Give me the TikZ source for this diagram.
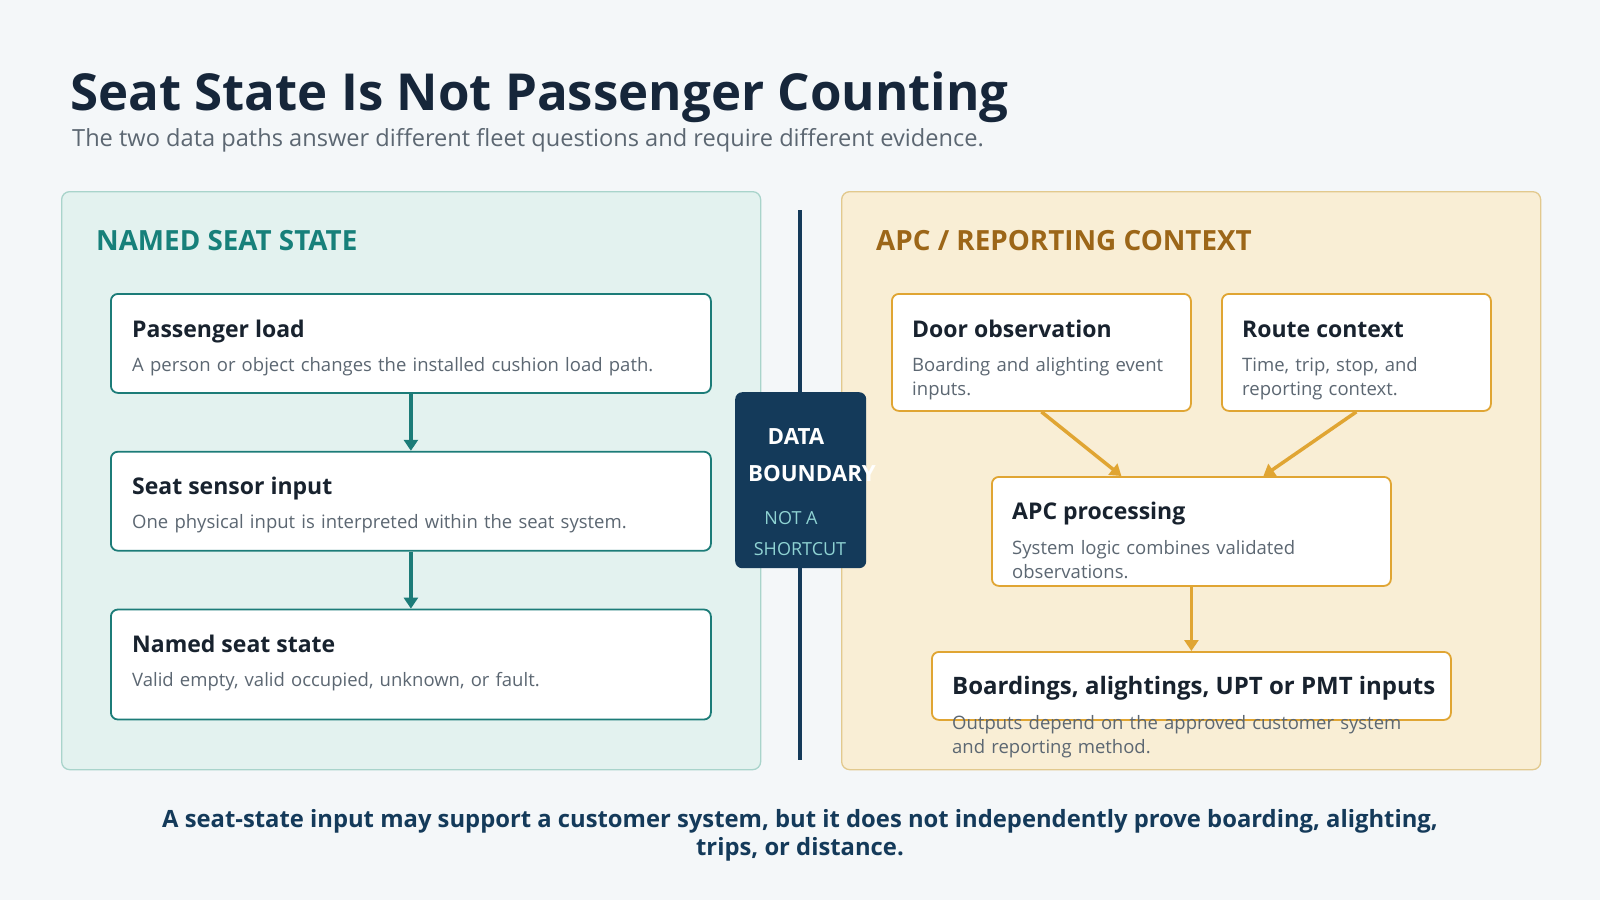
\documentclass[tikz,border=0pt]{standalone}
\usepackage{fontspec}
\setmainfont{Open Sans}
\usepackage{xcolor}
\usetikzlibrary{positioning,arrows.meta,calc}

\definecolor{bgcol}{HTML}{F4F7F9}
\definecolor{leftfill}{HTML}{E3F2EF}
\definecolor{leftline}{HTML}{A9D4CB}
\definecolor{rightfill}{HTML}{F9EED5}
\definecolor{rightline}{HTML}{E2C98E}
\definecolor{tealline}{HTML}{1C7C78}
\definecolor{goldline}{HTML}{E0A533}
\definecolor{navy}{HTML}{143A5A}
\definecolor{inktitle}{HTML}{16263A}
\definecolor{ink}{HTML}{18222E}
\definecolor{muted}{HTML}{5C6772}
\definecolor{tealtxt}{HTML}{17807A}
\definecolor{browntxt}{HTML}{9C6618}
\definecolor{shorttxt}{HTML}{8FD3D3}

\begin{document}
\begin{tikzpicture}[x=1pt, y=-1pt,
  node distance=57pt,
  panel/.style={draw, rounded corners=8pt, line width=1.3pt, anchor=north west, inner sep=0pt},
  tealcard/.style={draw=tealline, fill=white, rounded corners=7pt, line width=1.8pt, anchor=north west, inner sep=0pt, minimum width=600pt},
  goldcard/.style={draw=goldline, fill=white, rounded corners=7pt, line width=1.8pt, anchor=north west, inner sep=0pt},
  head/.style={anchor=base west, inner sep=0pt, text=ink, font=\fontsize{23}{28}\selectfont\bfseries},
  desc/.style={anchor=base west, inner sep=0pt, text=muted, align=left, text width=540pt, font=\fontsize{18.5}{24}\selectfont},
  section/.style={anchor=base west, inner sep=0pt, font=\fontsize{27.8}{32}\selectfont\bfseries},
  tealarrow/.style={-{Triangle[length=11pt,width=14pt]}, draw=tealline, line width=3.5pt},
  goldarrow/.style={-{Triangle[length=11pt,width=14pt]}, draw=goldline, line width=3.5pt},
  dbword/.style={anchor=base, inner sep=0pt, text=white, font=\fontsize{22.3}{26}\selectfont\bfseries},
  dbsub/.style={anchor=base, inner sep=0pt, text=shorttxt, font=\fontsize{18}{22}\selectfont}
]
\fill[bgcol] (0,0) rectangle (1600,900);
\useasboundingbox (0,0) rectangle (1600,900);

% heading
\node[anchor=base west, inner sep=0pt, text=inktitle, font=\fontsize{51}{60}\selectfont\bfseries] (title) at (70,110) {Seat State Is Not Passenger Counting};
\node[anchor=base west, inner sep=0pt, text=muted, font=\fontsize{23.6}{28}\selectfont] (subtitle) at (72,146) {The two data paths answer different fleet questions and require different evidence.};

% the two panels
\node[panel, draw=leftline, fill=leftfill, minimum width=699pt, minimum height=578pt] (leftpanel) at (61,191) {};
\node[panel, draw=rightline, fill=rightfill, minimum width=699pt, minimum height=578pt] (rightpanel) at (841,191) {};
\node[section, text=tealtxt] (lefthead) at (96,250) {NAMED SEAT STATE};
\node[section, text=browntxt] (righthead) at (876,250) {APC / REPORTING CONTEXT};

% left column
\node[tealcard, minimum height=99pt] (load) at (110,293) {};
\node[tealcard, minimum height=99pt, below=of load] (sensor) {};
\node[tealcard, minimum height=110pt, below=of sensor] (named) {};
\node[head] (loadh) at ($(load.north west)+(22,44)$) {Passenger load};
\node[desc] (loadd) at ($(load.north west)+(22,78)$) {A person or object changes the installed cushion load path.};
\node[head] (sensorh) at ($(sensor.north west)+(22,44)$) {Seat sensor input};
\node[desc] (sensord) at ($(sensor.north west)+(22,78)$) {One physical input is interpreted within the seat system.};
\node[head] (namedh) at ($(named.north west)+(22,44)$) {Named seat state};
\node[desc] (namedd) at ($(named.north west)+(22,78)$) {Valid empty, valid occupied, unknown, or fault.};

\draw[tealarrow] (load) -- (sensor);
\draw[tealarrow] (sensor) -- (named);

% right column
\node[goldcard, minimum width=299pt, minimum height=117pt] (door) at (891,293) {};
\node[goldcard, minimum width=269pt, minimum height=117pt] (route) at (1221,293) {};
\node[goldcard, minimum width=399pt, minimum height=109pt] (apc) at (991,476) {};
\node[goldcard, minimum width=519pt, minimum height=68pt] (board) at (931,651) {};
\node[head] (doorh) at ($(door.north west)+(21,44)$) {Door observation};
\node[desc] (doord) at ($(door.north west)+(21,78)$) {Boarding and alighting event\\inputs.};
\node[head] (routeh) at ($(route.north west)+(21,44)$) {Route context};
\node[desc] (routed) at ($(route.north west)+(21,78)$) {Time, trip, stop, and\\reporting context.};
\node[head] (apch) at ($(apc.north west)+(21,43)$) {APC processing};
\node[desc] (apcd) at ($(apc.north west)+(21,78)$) {System logic combines validated\\observations.};
\node[head, font=\fontsize{24}{28}\selectfont\bfseries] (boardh) at ($(board.north west)+(21,43)$) {Boardings, alightings, UPT or PMT inputs};
\node[desc] (boardd) at ($(board.north west)+(21,78)$) {Outputs depend on the approved customer system\\and reporting method.};

\coordinate (apcleft) at ($(apc.north)+(-70,0)$);
\coordinate (apcright) at ($(apc.north)+(72,0)$);
\draw[goldarrow] (door.south) -- (apcleft);
\draw[goldarrow] (route.south) -- (apcright);
\draw[goldarrow] (apc) -- (board);

% boundary between the paths
\draw[navy, line width=4pt] (800,210) -- (800,760);
\node[fill=navy, rounded corners=7pt, anchor=north west, inner sep=0pt, minimum width=131pt, minimum height=176pt] (boundary) at (735,392) {};
\node[dbword] (dbdata) at (796,444) {DATA};
\node[dbword] (dbbound) at (812,481) {BOUNDARY};
\node[dbsub] (dbnot) at (791,524) {NOT A};
\node[dbsub] (dbshort) at (800,555) {SHORTCUT};

% closing note
\node[anchor=base, inner sep=0pt, text=navy, align=center, font=\fontsize{23.8}{27.5}\selectfont\bfseries] (note) at (800,855) {A seat-state input may support a customer system, but it does not independently prove boarding, alighting,\\trips, or distance.};
\end{tikzpicture}
\end{document}
